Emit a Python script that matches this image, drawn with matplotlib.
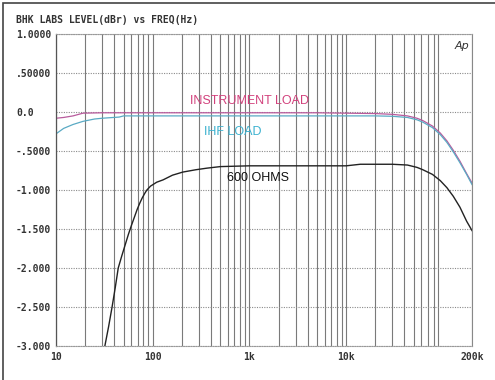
import matplotlib
matplotlib.use("Agg")
import matplotlib.pyplot as plt
from matplotlib.patches import Rectangle
from matplotlib.ticker import LogLocator, NullFormatter

# ---- data ----
inst_freq = [10, 12, 15, 19, 30, 50, 100, 200, 500, 1000, 2000, 5000, 10000, 20000,
             30000, 43000, 54000, 62000, 78000, 94000, 110000, 128000, 150000, 176000, 200000]
inst_val = [-0.08, -0.07, -0.05, -0.015, -0.01, -0.01, -0.01, -0.01, -0.01, -0.01, -0.01, -0.01,
            -0.015, -0.02, -0.03, -0.05, -0.08, -0.11, -0.18, -0.27, -0.37, -0.49, -0.63, -0.79, -0.91]

ihf_freq = [10, 12, 15, 19, 25, 30, 45, 50, 100, 200, 500, 1000, 2000, 5000, 10000, 20000,
            30000, 43000, 54000, 62000, 78000, 94000, 110000, 128000, 150000, 176000, 200000]
ihf_val = [-0.28, -0.21, -0.16, -0.12, -0.09, -0.08, -0.065, -0.05, -0.05, -0.05, -0.05, -0.05,
           -0.05, -0.05, -0.05, -0.05, -0.055, -0.07, -0.10, -0.13, -0.20, -0.29, -0.39, -0.51,
           -0.65, -0.80, -0.93]

ohm_freq = [30, 32, 35, 38, 41, 44, 48, 52, 56, 60, 65, 69, 74, 78, 83, 87, 95, 110, 128, 160,
            205, 280, 363, 500, 1000, 2000, 5000, 10000, 14000, 20000, 30000, 43000, 54000,
            62000, 78000, 94000, 110000, 128000, 150000, 176000, 200000]
ohm_val = [-3.3, -3.0, -2.75, -2.5, -2.25, -2.0, -1.84, -1.70, -1.57, -1.46, -1.34, -1.25,
           -1.16, -1.10, -1.04, -1.0, -0.95, -0.90, -0.87, -0.81, -0.77, -0.74, -0.72, -0.70,
           -0.69, -0.69, -0.69, -0.69, -0.67, -0.67, -0.67, -0.68, -0.71, -0.74, -0.80, -0.88,
           -0.97, -1.08, -1.22, -1.40, -1.52]

yticks = [1.0, 0.5, 0.0, -0.5, -1.0, -1.5, -2.0, -2.5, -3.0]
ytick_labels = ["1.0000", ".50000", "0.0", "-.5000", "-1.000", "-1.500", "-2.000", "-2.500", "-3.000"]
xticks = [10, 100, 1000, 10000, 200000]
xtick_labels = ["10", "100", "1k", "10k", "200k"]

title = "BHK LABS LEVEL(dBr) vs FREQ(Hz)"

# ---- figure ----
W, H = 495, 380
fig = plt.figure(figsize=(W / 100, H / 100), dpi=100)
fig.patch.set_facecolor("white")
ax = fig.add_axes([56 / W, 1 - 346 / H, (472 - 56) / W, (346 - 34) / H])

ax.set_xscale("log")
ax.set_xlim(10, 200000)
ax.set_ylim(-3.0, 1.0)

ax.xaxis.set_minor_locator(LogLocator(base=10, subs=range(2, 10), numticks=20))
ax.xaxis.set_minor_formatter(NullFormatter())
ax.grid(True, which="both", axis="x", color="#7a7a7a", lw=0.8, ls="-")
ax.grid(True, which="major", axis="y", color="#8a8a8a", lw=0.8, ls=(0, (1, 1.2)))
ax.set_axisbelow(True)

ax.plot(inst_freq, inst_val, color="#b85a9c", lw=0.9)
ax.plot(ihf_freq, ihf_val, color="#5aaac4", lw=0.9)
ax.plot(ohm_freq, ohm_val, color="#222222", lw=1.0)

mono = dict(family="DejaVu Sans Mono", weight="bold", size=7, color="#333333")
ax.set_yticks(yticks)
ax.set_yticklabels(ytick_labels, **mono)
for t in ax.get_yticklabels():
    t.set_horizontalalignment("left")
ax.tick_params(axis="y", length=0, pad=40 * 0.72)
ax.set_xticks(xticks)
ax.set_xticklabels(xtick_labels, **mono)
ax.tick_params(axis="x", which="both", length=0, pad=6 * 0.72)

for side in ["top", "bottom"]:
    ax.spines[side].set_color("#999999")
    ax.spines[side].set_linestyle((0, (1, 1.2)))
    ax.spines[side].set_linewidth(0.8)
ax.spines["left"].set_color("#555555")
ax.spines["left"].set_linewidth(0.9)
ax.spines["right"].set_color("#888888")
ax.spines["right"].set_linewidth(0.8)

lab = dict(family="Liberation Sans", size=9, ha="center", va="center")
ax.text(990, 0.14, "INSTRUMENT LOAD", color="#d2417c", **lab)
ax.text(676, -0.26, "IHF LOAD", color="#3db2d0", **lab)
ax.text(1230, -0.85, "600 OHMS", color="#111111", **lab)
ax.text(158000, 0.84, "Ap", color="#333333", family="DejaVu Sans", style="italic",
        size=8, ha="center", va="center")

fig.text(16 / W, 1 - 20 / H, title, ha="left", va="center", **mono)

fig.patches.append(Rectangle((3 / W, -0.01), 1.05, 1 - 3 / H + 0.01, transform=fig.transFigure,
                             fill=False, edgecolor="#444444", lw=1.2))

fig.savefig("out.png", dpi=100, facecolor="white")
